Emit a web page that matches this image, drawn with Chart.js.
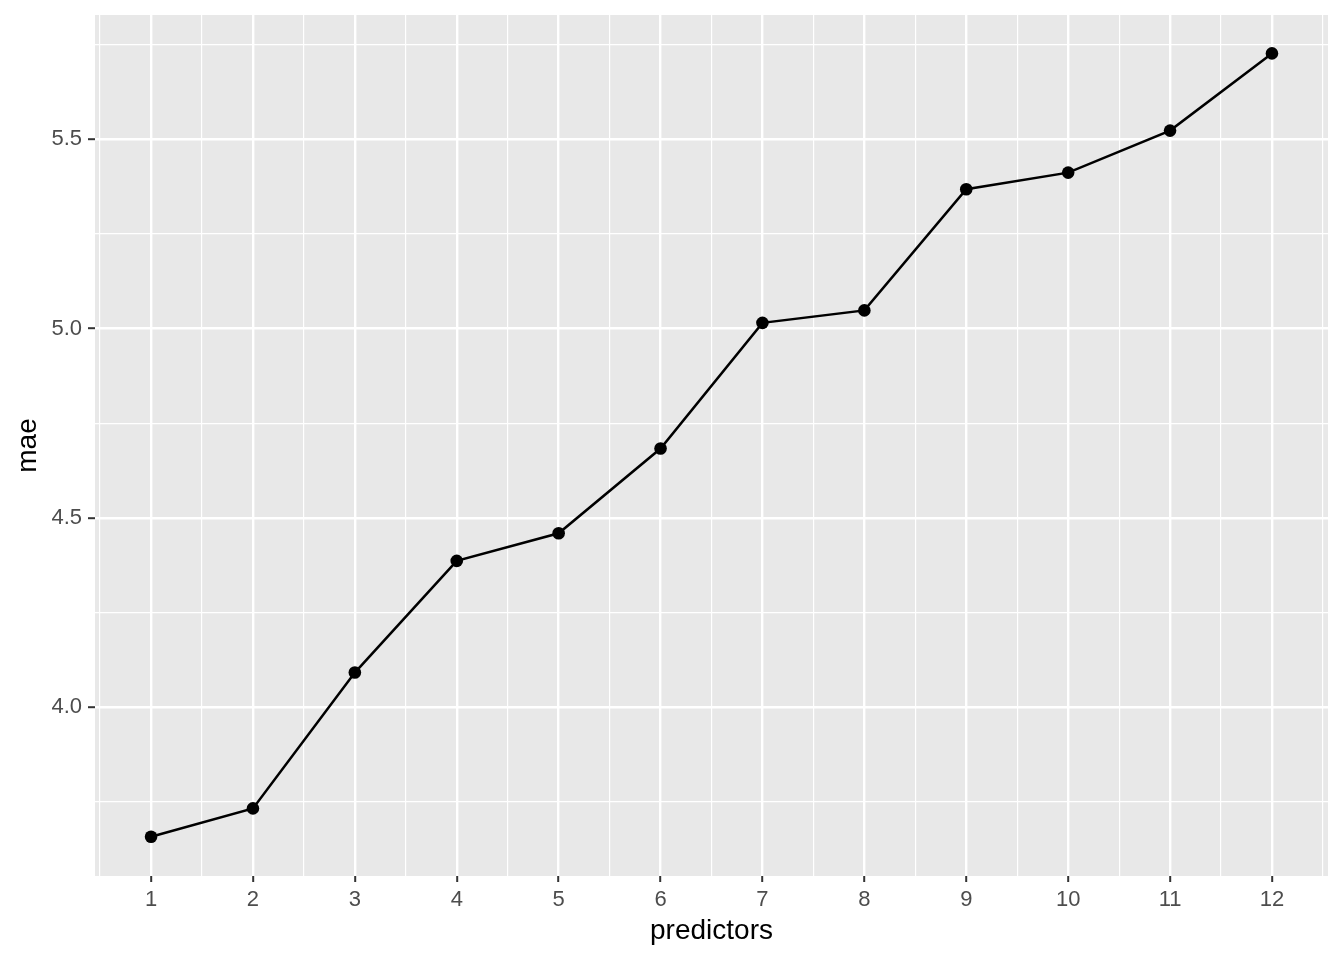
<!DOCTYPE html>
<html lang="en">
<head>
    <meta charset="UTF-8">
    <title>mae by predictors</title>
    <script src="https://cdn.jsdelivr.net/npm/chart.js"></script>
    <style>
        html, body { margin: 0; padding: 0; background: #ffffff; }
        #wrap { width: 1344px; height: 960px; position: relative; }
    </style>
</head>
<body>
    <div id="wrap"><canvas id="maeChart"></canvas></div>

    <script>
        // data
        const predictors = [1, 2, 3, 4, 5, 6, 7, 8, 9, 10, 11, 12];
        const mae = [3.657, 3.732, 4.091, 4.386, 4.459, 4.683, 5.015, 5.048, 5.368, 5.412, 5.523, 5.727];

        // axis breaks (major get labels, minor are just grid lines)
        const xMajor = [1, 2, 3, 4, 5, 6, 7, 8, 9, 10, 11, 12];
        const xMinor = [0.5, 1.5, 2.5, 3.5, 4.5, 5.5, 6.5, 7.5, 8.5, 9.5, 10.5, 11.5, 12.5];
        const yMajor = [4.0, 4.5, 5.0, 5.5];
        const yMinor = [3.75, 4.25, 4.75, 5.25, 5.75];
        const yLabels = ['4.0', '4.5', '5.0', '5.5'];

        const xRange = [0.45, 12.55];
        const yRange = [3.5534, 5.8285];

        const tickFont = { family: "'Liberation Sans', Arial, Helvetica, sans-serif", size: 22 };
        const titleFont = { family: "'Liberation Sans', Arial, Helvetica, sans-serif", size: 28 };

        const isMajorX = v => xMajor.includes(v);
        const isMajorY = v => yMajor.includes(v);

        // grey panel behind the grid
        const panelBg = {
            id: 'panelBg',
            beforeDraw(chart) {
                const a = chart.chartArea;
                const ctx = chart.ctx;
                ctx.save();
                ctx.fillStyle = '#E8E8E8';
                ctx.fillRect(a.left, a.top, a.right - a.left, a.bottom - a.top);
                ctx.restore();
            }
        };

        new Chart(document.getElementById('maeChart'), {
            type: 'line',
            data: {
                datasets: [{
                    label: 'mae',
                    data: predictors.map((p, i) => ({ x: p, y: mae[i] })),
                    borderColor: '#000000',
                    backgroundColor: '#000000',
                    borderWidth: 2.5,
                    pointRadius: 6.3,
                    pointBorderWidth: 0,
                    pointBackgroundColor: '#000000',
                    tension: 0
                }]
            },
            options: {
                responsive: true,
                maintainAspectRatio: false,
                animation: false,
                layout: { padding: { top: 15, right: 16, left: 0, bottom: 0 } },
                plugins: {
                    legend: { display: false },
                    tooltip: { enabled: false }
                },
                scales: {
                    x: {
                        type: 'linear',
                        min: xRange[0],
                        max: xRange[1],
                        afterBuildTicks: axis => {
                            axis.ticks = xMinor.concat(xMajor).sort((a, b) => a - b).map(v => ({ value: v }));
                        },
                        afterFit: axis => {
                            axis.height = 84;
                            axis.paddingLeft = 0;
                            axis.paddingRight = 0;
                        },
                        border: { display: false },
                        grid: {
                            color: '#ffffff',
                            lineWidth: ctx => isMajorX(ctx.tick.value) ? 2.4 : 1.2,
                            drawTicks: true,
                            tickLength: 6,
                            tickWidth: 2,
                            tickColor: ctx => isMajorX(ctx.tick.value) ? '#333333' : 'rgba(0,0,0,0)'
                        },
                        ticks: {
                            autoSkip: false,
                            maxRotation: 0,
                            padding: 5,
                            color: '#4D4D4D',
                            font: tickFont,
                            callback: v => isMajorX(v) ? String(v) : ''
                        },
                        title: {
                            display: true,
                            text: 'predictors',
                            color: '#000000',
                            font: titleFont,
                            padding: { top: 0, bottom: 12 }
                        }
                    },
                    y: {
                        type: 'linear',
                        min: yRange[0],
                        max: yRange[1],
                        afterBuildTicks: axis => {
                            axis.ticks = yMinor.concat(yMajor).sort((a, b) => a - b).map(v => ({ value: v }));
                        },
                        afterFit: axis => {
                            axis.width = 95;
                            axis.paddingTop = 0;
                            axis.paddingBottom = 0;
                        },
                        border: { display: false },
                        grid: {
                            color: '#ffffff',
                            lineWidth: ctx => isMajorY(ctx.tick.value) ? 2.4 : 1.2,
                            drawTicks: true,
                            tickLength: 7,
                            tickWidth: 2,
                            tickColor: ctx => isMajorY(ctx.tick.value) ? '#333333' : 'rgba(0,0,0,0)'
                        },
                        ticks: {
                            autoSkip: false,
                            padding: 6,
                            color: '#4D4D4D',
                            font: tickFont,
                            callback: v => isMajorY(v) ? yLabels[yMajor.indexOf(v)] : ''
                        },
                        title: {
                            display: true,
                            text: 'mae',
                            color: '#000000',
                            font: titleFont,
                            padding: { top: 11, bottom: 0 }
                        }
                    }
                }
            },
            plugins: [panelBg]
        });
    </script>
</body>
</html>
